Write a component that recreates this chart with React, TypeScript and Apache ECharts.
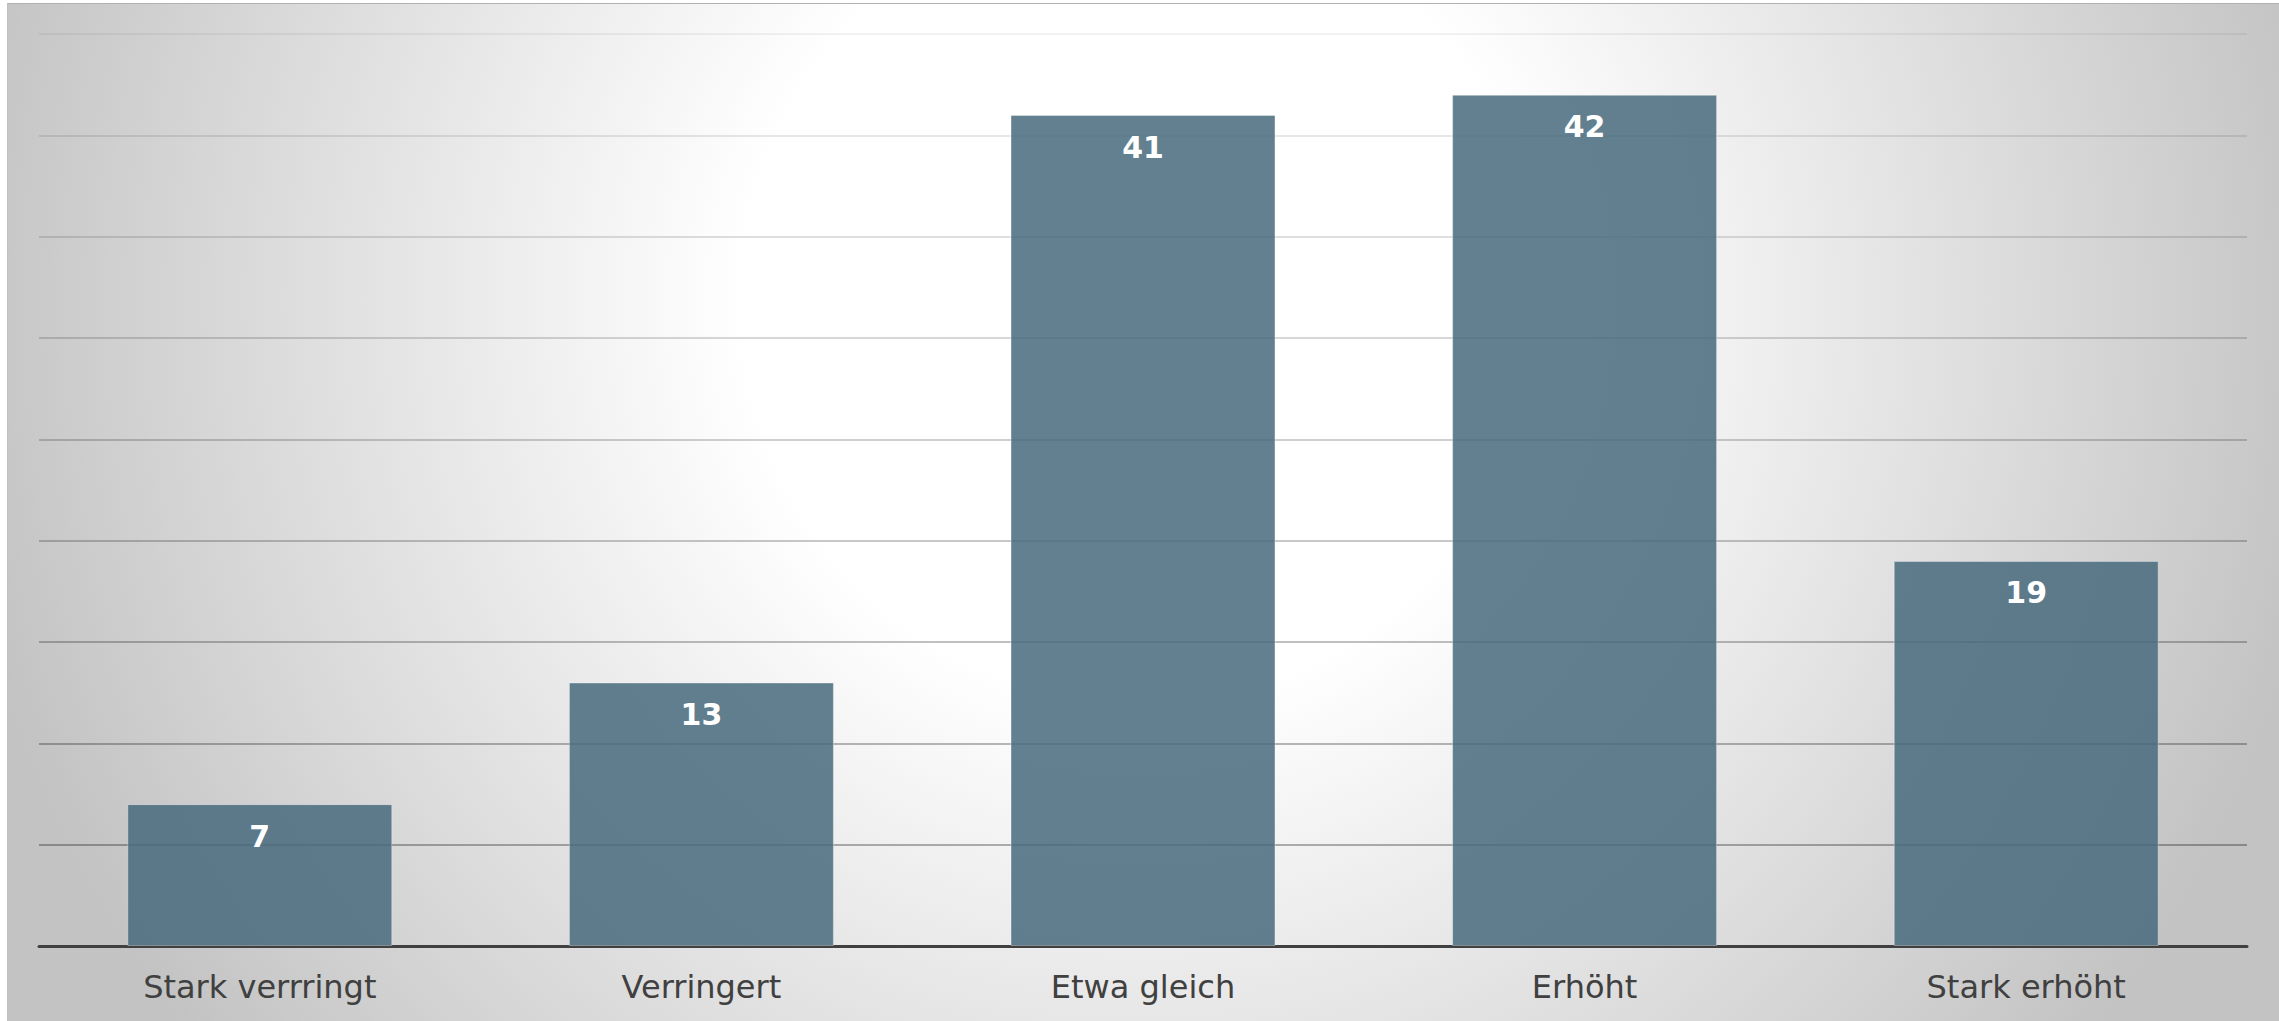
import React, { useEffect, useRef } from "react";
import * as echarts from "echarts";

const categories = ["Stark verrringt", "Verringert", "Etwa gleich", "Erhöht", "Stark erhöht"];
const values = [7, 13, 41, 42, 19];
const yMin = 0;
const yMax = 45;
const yInterval = 5;
// split line colours from value 0 up to 45 (fade out towards the top)
const gridColors = [
  "rgba(0,0,0,0)",
  "rgba(0,0,0,0.40)",
  "rgba(0,0,0,0.37)",
  "rgba(0,0,0,0.33)",
  "rgba(0,0,0,0.29)",
  "rgba(0,0,0,0.25)",
  "rgba(0,0,0,0.21)",
  "rgba(0,0,0,0.17)",
  "rgba(0,0,0,0.13)",
  "rgba(0,0,0,0.07)",
];

export default function App() {
  const ref = useRef<HTMLDivElement>(null);

  useEffect(() => {
    if (!ref.current) return;
    const chart = echarts.init(ref.current, undefined, { renderer: "svg" });
    chart.setOption({
      animation: false,
      backgroundColor: "transparent",
      grid: { left: 31, right: 32, top: 30, bottom: 75, containLabel: false },
      xAxis: {
        type: "category",
        data: categories,
        axisLine: { show: true, lineStyle: { color: "#404040", width: 3 } },
        axisTick: { show: false },
        axisLabel: {
          color: "#404040",
          fontSize: 32,
          fontFamily: "DejaVu Sans, Verdana, sans-serif",
          margin: 25,
        },
      },
      yAxis: {
        type: "value",
        min: yMin,
        max: yMax,
        interval: yInterval,
        axisLabel: { show: false },
        axisLine: { show: false },
        axisTick: { show: false },
        splitLine: { show: true, lineStyle: { color: gridColors, width: 1.5 } },
      },
      series: [
        {
          type: "bar",
          data: values,
          barWidth: "60%",
          itemStyle: {
            color: "rgba(70,106,124,0.85)",
            borderColor: "rgba(255,255,255,0.35)",
            borderWidth: 1,
          },
          label: {
            show: true,
            position: "insideTop",
            distance: 17,
            color: "#ffffff",
            fontSize: 30,
            fontWeight: "bold",
            fontFamily: "DejaVu Sans, Verdana, sans-serif",
          },
        },
      ],
    });
    return () => chart.dispose();
  }, []);

  return (
    <div
      style={{
        position: "absolute",
        left: 7,
        top: 3,
        width: 2272,
        height: 1018,
        borderTop: "1px solid #b0b0b0",
        borderLeft: "1px solid #c0c0c0",
        boxSizing: "border-box",
        background:
          "radial-gradient(circle 1200px at 1133px 297px, #ffffff 0%, #ffffff 33%, #c3c3c3 100%)",
      }}
    >
      <div ref={ref} style={{ width: 2271, height: 1017 }} />
    </div>
  );
}
